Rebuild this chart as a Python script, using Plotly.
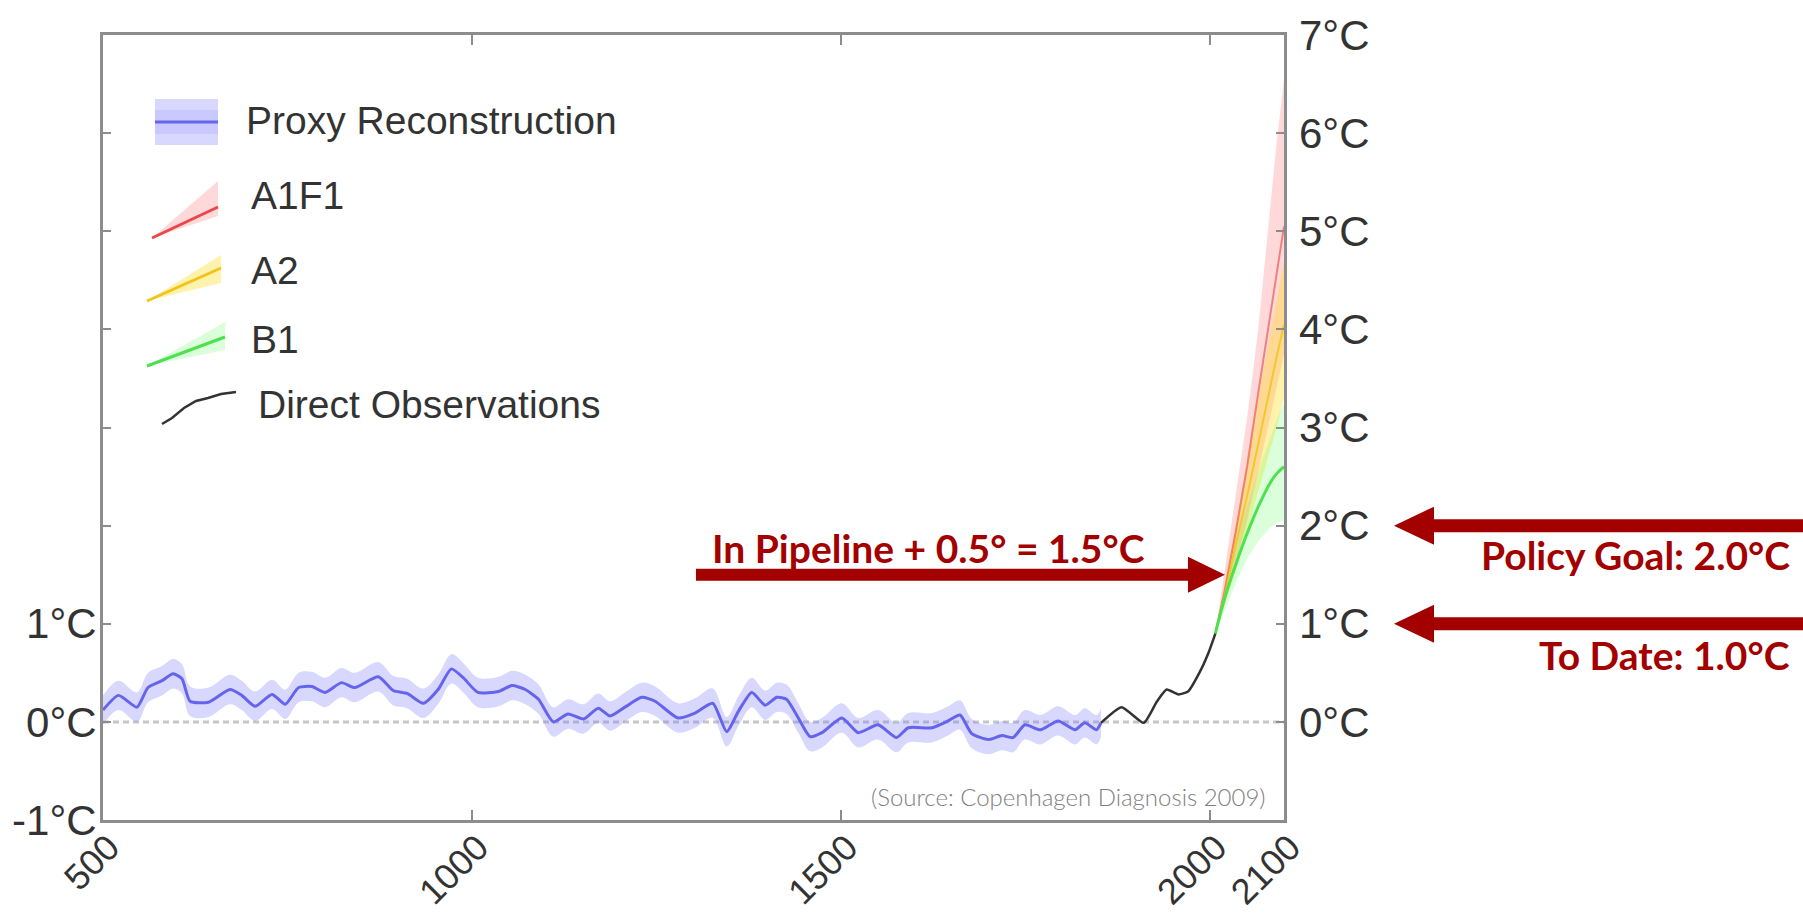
import plotly.graph_objects as go

# ---------------------------------------------------------------------------
# Data (temperature anomaly, °C)
# ---------------------------------------------------------------------------
proxy_years = [500, 521, 546, 561, 580, 595, 607, 618, 643, 672, 688, 706, 729, 747,
               765, 783, 801, 823, 841, 873, 893, 912, 934, 954, 972, 988, 1008, 1036,
               1054, 1072, 1090, 1110, 1130, 1151, 1171, 1187, 1207, 1230, 1248, 1279,
               1302, 1326, 1345, 1361, 1379, 1397, 1413, 1426, 1442, 1458, 1474, 1501,
               1523, 1550, 1575, 1591, 1623, 1645, 1661, 1677, 1700, 1718, 1733, 1749,
               1770, 1794, 1817, 1830, 1846, 1852]
proxy_temp = [0.12, 0.27, 0.15, 0.35, 0.42, 0.49, 0.44, 0.21, 0.20, 0.33, 0.27, 0.16, 0.28, 0.18,
              0.35, 0.36, 0.30, 0.40, 0.35, 0.46, 0.32, 0.29, 0.19, 0.33, 0.54, 0.45, 0.30, 0.31,
              0.37, 0.33, 0.23, 0.00, 0.08, 0.03, 0.14, 0.06, 0.15, 0.25, 0.21, 0.04,
              0.09, 0.19, -0.10, 0.11, 0.30, 0.17, 0.25, 0.23, 0.04, -0.15, -0.11, 0.04,
              -0.11, -0.03, -0.16, -0.06, -0.06, 0.01, 0.07, -0.12, -0.18, -0.14, -0.16, -0.03,
              -0.08, 0.01, -0.08, -0.01, -0.08, -0.01]
proxy_half_width = 0.15

obs_years = [1852, 1880, 1910, 1928, 1941, 1957, 1970, 1986, 1998, 2007]
obs_temp = [-0.01, 0.15, -0.01, 0.21, 0.33, 0.28, 0.31, 0.51, 0.71, 0.90]

scen_years = [2007, 2020, 2035, 2050, 2065, 2080, 2090, 2100]
a1f1_mid = [0.9, 1.35, 1.95, 2.60, 3.35, 4.10, 4.60, 5.05]
a1f1_low = [0.9, 1.22, 1.62, 2.05, 2.55, 3.05, 3.40, 3.75]
a1f1_high = [0.9, 1.55, 2.35, 3.10, 4.00, 5.10, 5.90, 6.55]
a2_mid = [0.9, 1.30, 1.82, 2.30, 2.83, 3.37, 3.72, 4.05]
a2_low = [0.9, 1.20, 1.55, 1.95, 2.35, 2.75, 3.00, 3.30]
a2_high = [0.9, 1.42, 2.05, 2.65, 3.30, 3.90, 4.30, 4.70]
b1_mid = [0.9, 1.27, 1.61, 1.92, 2.19, 2.42, 2.53, 2.60]
b1_low = [0.9, 1.15, 1.42, 1.66, 1.84, 1.97, 2.03, 2.05]
b1_high = [0.9, 1.38, 1.82, 2.20, 2.55, 2.88, 3.08, 3.25]

x_tick_vals = [500, 1000, 1500, 2000, 2100]
x_tick_text = ["500", "1000", "1500", "2000", "2100"]
left_tick_vals = [-1, 0, 1, 2, 3, 4, 5, 6, 7]
left_tick_text = ["-1°C", "0°C", "1°C", "", "", "", "", "", ""]
right_tick_vals = [0, 1, 2, 3, 4, 5, 6, 7]
right_tick_text = ["0°C", "1°C", "2°C", "3°C", "4°C", "5°C", "6°C", "7°C"]

pipeline_year, pipeline_temp = 2020, 1.5
policy_goal = 2.0
to_date = 1.0

# ---------------------------------------------------------------------------
# Layout geometry and styling
# ---------------------------------------------------------------------------
FIG_W, FIG_H = 1803, 917
PLOT_L, PLOT_R, PLOT_T, PLOT_B = 103, 1284, 35, 820
X_RANGE = [500, 2100]
Y_RANGE = [-1, 7]

RED = "#a30000"
TEXT_GREY = "#333333"
FRAME_GREY = "#8c8c8c"
SANS = "Liberation Sans, Arial, Helvetica, sans-serif"
HUMANIST = "Lato, 'Open Sans', sans-serif"

BLUE_LINE = "#6464ec"
BLUE_BAND = "rgba(125,125,255,0.30)"
RED_LINE = "rgba(232,70,70,0.6)"
RED_BAND = "rgba(255,110,110,0.26)"
YEL_LINE = "rgba(240,196,20,0.8)"
YEL_BAND = "rgba(255,215,0,0.32)"
GRN_LINE = "#4fe04f"
GRN_BAND = "rgba(90,255,90,0.22)"


def xp(px):
    """Horizontal pixel -> paper fraction."""
    return (px - PLOT_L) / (PLOT_R - PLOT_L)


def yp(py):
    """Vertical pixel -> paper fraction."""
    return (PLOT_B - py) / (PLOT_B - PLOT_T)


fig = go.Figure()


def add_band(xs, lo, hi, color, shape="linear"):
    fig.add_trace(go.Scatter(x=xs, y=lo, mode="lines", line=dict(width=0, shape=shape),
                             hoverinfo="skip", showlegend=False))
    fig.add_trace(go.Scatter(x=xs, y=hi, mode="lines", line=dict(width=0, shape=shape),
                             fill="tonexty", fillcolor=color,
                             hoverinfo="skip", showlegend=False))


# zero reference line
fig.add_trace(go.Scatter(x=X_RANGE, y=[0, 0], mode="lines",
                         line=dict(color="#c6c6c6", width=3, dash="6px,4px"),
                         hoverinfo="skip", showlegend=False))

# proxy reconstruction with uncertainty band
add_band(proxy_years,
         [v - proxy_half_width for v in proxy_temp],
         [v + proxy_half_width for v in proxy_temp],
         BLUE_BAND, shape="spline")
fig.add_trace(go.Scatter(x=proxy_years, y=proxy_temp, mode="lines",
                         line=dict(color=BLUE_LINE, width=3, shape="spline", smoothing=0.6),
                         name="Proxy Reconstruction", showlegend=False))

# scenario projections
add_band(scen_years, a1f1_low, a1f1_high, RED_BAND)
add_band(scen_years, a2_low, a2_high, YEL_BAND)
add_band(scen_years, b1_low, b1_high, GRN_BAND)
fig.add_trace(go.Scatter(x=scen_years, y=a1f1_mid, mode="lines",
                         line=dict(color=RED_LINE, width=2), name="A1F1", showlegend=False))
fig.add_trace(go.Scatter(x=scen_years, y=a2_mid, mode="lines",
                         line=dict(color=YEL_LINE, width=2), name="A2", showlegend=False))
fig.add_trace(go.Scatter(x=scen_years, y=b1_mid, mode="lines",
                         line=dict(color=GRN_LINE, width=3, shape="spline"), name="B1",
                         showlegend=False))

# instrumental record
fig.add_trace(go.Scatter(x=obs_years, y=obs_temp, mode="lines",
                         line=dict(color="#333333", width=2.5, shape="spline", smoothing=0.5),
                         name="Direct Observations", showlegend=False))

# keeps the right-hand temperature axis active
fig.add_trace(go.Scatter(x=[X_RANGE[1]], y=[0], yaxis="y2", mode="markers",
                         marker=dict(opacity=0), hoverinfo="skip", showlegend=False))


# ---------------------------------------------------------------------------
# Arrows
# ---------------------------------------------------------------------------
def arrow_path(length, head_len, head_half, shaft_half, direction, tip_dx=0):
    d = direction
    pts = [(0, 0), (-d * head_len, head_half), (-d * head_len, shaft_half),
           (-d * length, shaft_half), (-d * length, -shaft_half),
           (-d * head_len, -shaft_half), (-d * head_len, -head_half)]
    return "M" + " L".join(f"{x + tip_dx:.1f},{y:.1f}" for x, y in pts) + " Z"


shapes = []
# "in pipeline" arrow, pointing right at the B1 path
shapes.append(dict(type="path", xref="x", yref="y", xsizemode="pixel", ysizemode="pixel",
                   xanchor=pipeline_year, yanchor=pipeline_temp,
                   path=arrow_path(529, 37, 18, 6, +1),
                   fillcolor=RED, line=dict(width=0), layer="above"))
# arrows from the right margin pointing at the temperature axis
for level in (policy_goal, to_date):
    shapes.append(dict(type="path", xref="paper", yref="y", xsizemode="pixel", ysizemode="pixel",
                       xanchor=1, yanchor=level,
                       path=arrow_path(560, 40, 19, 6.5, -1, tip_dx=110),
                       fillcolor=RED, line=dict(width=0), layer="above"))

# ---------------------------------------------------------------------------
# Legend drawn inside the plot area
# ---------------------------------------------------------------------------
def poly(points):
    return "M" + " L".join(f"{xp(x):.5f},{yp(y):.5f}" for x, y in points) + " Z"


def polyline(points):
    return "M" + " L".join(f"{xp(x):.5f},{yp(y):.5f}" for x, y in points)


# proxy swatch
shapes.append(dict(type="rect", xref="paper", yref="paper",
                   x0=xp(155), x1=xp(218), y0=yp(99), y1=yp(145),
                   fillcolor=BLUE_BAND, line=dict(width=0), layer="above"))
shapes.append(dict(type="rect", xref="paper", yref="paper",
                   x0=xp(155), x1=xp(218), y0=yp(110), y1=yp(134),
                   fillcolor="rgba(120,120,255,0.15)", line=dict(width=0), layer="above"))
shapes.append(dict(type="line", xref="paper", yref="paper",
                   x0=xp(155), x1=xp(218), y0=yp(122), y1=yp(122),
                   line=dict(color=BLUE_LINE, width=3), layer="above"))

# scenario wedges
wedges = [
    ((152, 238), (218, 181), (218, 216), (218, 207), RED_BAND, "#e84848"),
    ((147, 301), (221, 255), (221, 283), (221, 268), YEL_BAND, "#f0c419"),
    ((147, 366), (225, 322), (225, 350), (225, 337), GRN_BAND, GRN_LINE),
]
for start, top, bot, end, band_col, line_col in wedges:
    shapes.append(dict(type="path", xref="paper", yref="paper",
                       path=poly([start, top, bot]),
                       fillcolor=band_col, line=dict(width=0), layer="above"))
    shapes.append(dict(type="path", xref="paper", yref="paper",
                       path=polyline([start, end]),
                       line=dict(color=line_col, width=3), layer="above"))

# observations squiggle
shapes.append(dict(type="path", xref="paper", yref="paper",
                   path=polyline([(162, 424), (172, 418), (184, 408), (196, 401),
                                  (208, 398), (221, 394), (236, 392)]),
                   line=dict(color="#333333", width=2.5), layer="above"))

annotations = []
legend_labels = [("Proxy Reconstruction", 244, 121), ("A1F1", 249, 196), ("A2", 249, 270),
                 ("B1", 249, 339), ("Direct Observations", 256, 404)]
for text, lx, ly in legend_labels:
    annotations.append(dict(text=text, xref="paper", yref="paper", x=xp(lx), y=yp(ly),
                            xanchor="left", yanchor="middle", showarrow=False,
                            font=dict(family=SANS, size=39, color=TEXT_GREY)))

# arrow captions
CAPTION_FONT = dict(family=HUMANIST, size=39, color=RED, weight="bold")
annotations.append(dict(text="In Pipeline + 0.5° = 1.5°C", xref="x", yref="y",
                        x=pipeline_year, y=pipeline_temp, xshift=-515, yshift=27,
                        xanchor="left", yanchor="middle", showarrow=False,
                        font=CAPTION_FONT))
annotations.append(dict(text="Policy Goal: 2.0°C", xref="paper", yref="y",
                        x=1, y=policy_goal, xshift=508, yshift=-29,
                        xanchor="right", yanchor="middle", showarrow=False,
                        font=CAPTION_FONT))
annotations.append(dict(text="To Date: 1.0°C", xref="paper", yref="y",
                        x=1, y=to_date, xshift=508, yshift=-31,
                        xanchor="right", yanchor="middle", showarrow=False,
                        font=CAPTION_FONT))

# source note
annotations.append(dict(text="(Source: Copenhagen Diagnosis 2009)", xref="paper", yref="paper",
                        x=1, y=0, xshift=-16, yshift=24, xanchor="right", yanchor="middle",
                        showarrow=False,
                        font=dict(family=HUMANIST, size=24, color="#808080", weight=300)))

fig.update_layout(
    width=FIG_W, height=FIG_H, autosize=False,
    margin=dict(l=PLOT_L, r=FIG_W - PLOT_R, t=PLOT_T, b=FIG_H - PLOT_B, pad=0),
    paper_bgcolor="white", plot_bgcolor="white",
    showlegend=False,
    xaxis=dict(range=X_RANGE, tickvals=x_tick_vals, ticktext=x_tick_text,
               tickangle=-45, ticks="inside", ticklen=10, tickwidth=2, tickcolor=FRAME_GREY,
               showline=True, linecolor=FRAME_GREY, linewidth=3, mirror="ticks",
               showgrid=False, zeroline=False, automargin=False,
               tickfont=dict(family=SANS, size=36, color=TEXT_GREY)),
    yaxis=dict(range=Y_RANGE, tickvals=left_tick_vals, ticktext=left_tick_text,
               ticks="inside", ticklen=8, tickwidth=2, tickcolor=FRAME_GREY,
               showline=True, linecolor=FRAME_GREY, linewidth=3, mirror="ticks",
               showgrid=False, zeroline=False, automargin=False,
               tickfont=dict(family=SANS, size=42, color=TEXT_GREY)),
    yaxis2=dict(range=Y_RANGE, overlaying="y", side="right", anchor="x",
                tickvals=right_tick_vals, ticktext=right_tick_text,
                ticks="", showline=False, showgrid=False, zeroline=False,
                automargin=False, ticklabelstandoff=14,
                tickfont=dict(family=SANS, size=42, color=TEXT_GREY)),
    shapes=shapes,
    annotations=annotations,
)

# tuck the tick labels in close to the frame
try:
    fig.layout.yaxis.ticklabelstandoff = -5
    fig.layout.xaxis.ticklabelstandoff = -11
    fig.layout.xaxis.ticklabelshift = 6
except ValueError:
    fig.layout.yaxis.ticklabelstandoff = 0
    fig.layout.xaxis.ticklabelstandoff = 0

fig.write_html("out.html")
